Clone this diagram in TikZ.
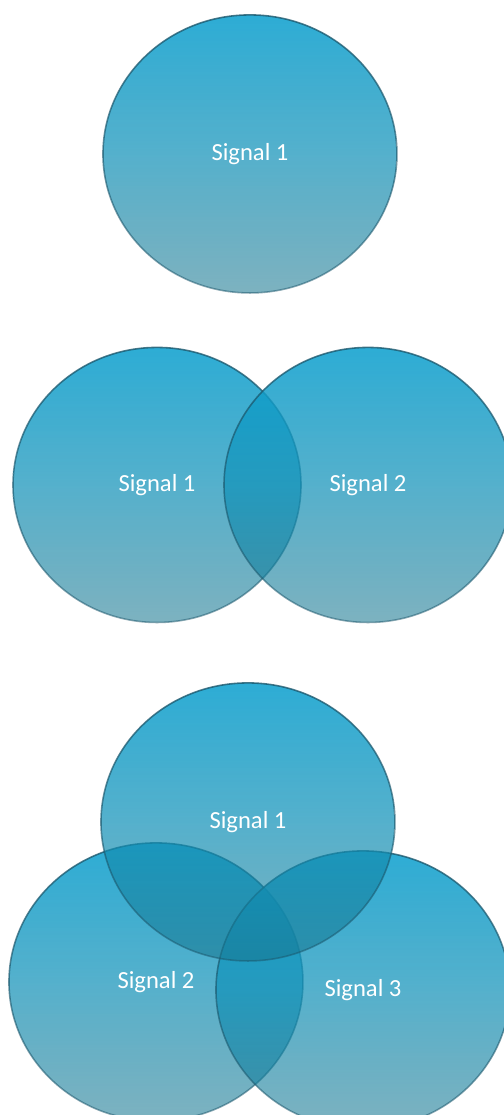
\documentclass[tikz,border=0pt]{standalone}
\usepackage{fontspec}
\setmainfont{Carlito}
\usepackage{tikz}
\usetikzlibrary{positioning,shapes.geometric,fadings}
\usepackage{xcolor}
\definecolor{sigtop}{HTML}{10A1CF}
\definecolor{sigbot}{HTML}{17768F}
\definecolor{sigline}{HTML}{1B566B}
% more see-through towards the bottom of each set
\tikzfading[name=sigfade, top color=transparent!12,
            middle color=transparent!22, bottom color=transparent!44]
\tikzset{
  sigset/.style = {ellipse, inner sep=0pt, draw=sigline, line width=0.9pt,
                   draw opacity=0.9, top color=sigtop, bottom color=sigbot,
                   middle color=sigtop!65!sigbot,
                   path fading=sigfade, text=white,
                   font=\fontsize{14}{16}\selectfont},
  siglabel/.style = {text=white, font=\fontsize{14}{16}\selectfont},
  bigset/.style = {sigset, minimum width=5.88cm, minimum height=5.56cm},
  midset/.style = {sigset, minimum width=5.76cm, minimum height=5.5cm},
}

\begin{document}
\begin{tikzpicture}[x=1cm,y=1cm]
\useasboundingbox (0,0) rectangle (10.08,22.3);
% ---- one signal ----
\begin{scope}[shift={(0,19.22)}]
\node[bigset] (A1) at (5.0,0) {Signal 1};
\end{scope}
% ---- two signals ----
\begin{scope}[shift={(0,12.6)}]
\node[midset] (B1) at (3.14,0) {};
\node[midset] (B2) at (7.36,0) {};
\node[siglabel] (L1) at (B1) {Signal 1};
\node[siglabel] (L2) at (B2) {Signal 2};
\end{scope}
% ---- three signals (top set laid over the lower two) ----
\begin{scope}[shift={(0,0)}]
\node[bigset] (C2) at (3.12,2.66) {};
\node[bigset] (C3) at (7.26,2.5) {};
\node[bigset] (C1) at (4.96,5.86) {};
\node[siglabel] (M1) at (C1) {Signal 1};
\node[siglabel] (M2) at (C2) {Signal 2};
\node[siglabel] (M3) at (C3) {Signal 3};
\end{scope}
\end{tikzpicture}
\end{document}
